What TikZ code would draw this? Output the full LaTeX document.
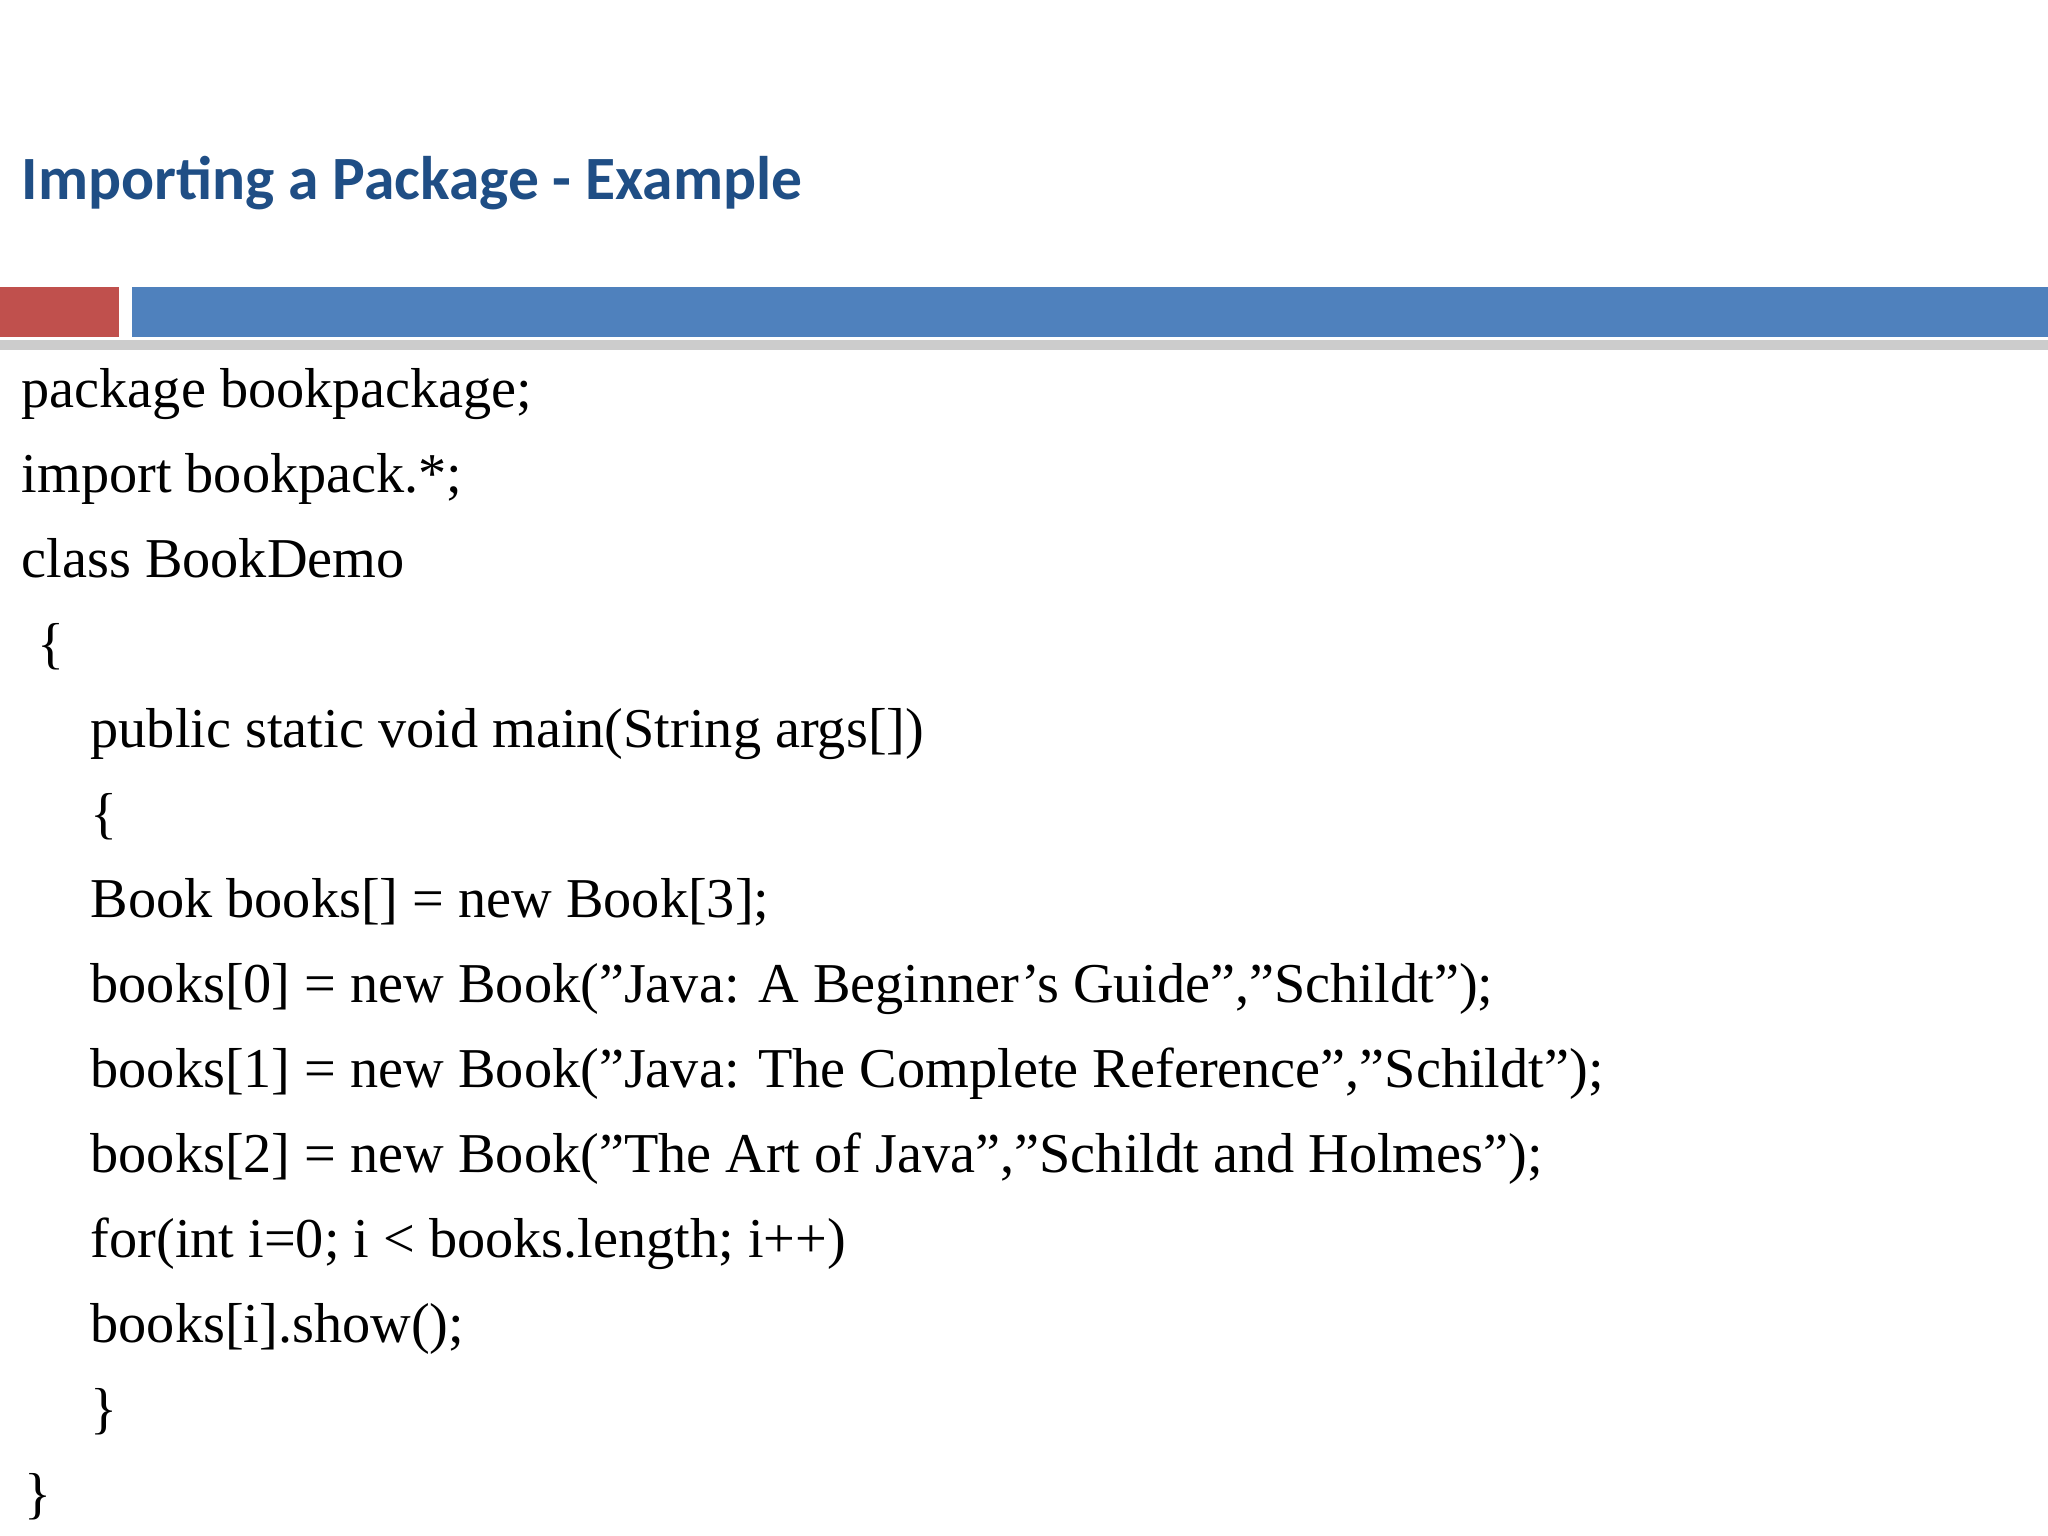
\documentclass[tikz,border=0pt]{standalone}
\usepackage{fontspec}
\setmainfont{Liberation Serif}
\newfontfamily\titlefont{Carlito}
\definecolor{titleblue}{HTML}{1F4E85}
\definecolor{barred}{HTML}{C0504D}
\definecolor{barblue}{HTML}{4F81BD}
\begin{document}
\begin{tikzpicture}[x=0.01cm,y=-0.01cm,
  code/.style={anchor=base west,inner sep=0pt,font=\fontsize{16pt}{18pt}\selectfont}]
\useasboundingbox (0,0) rectangle (2048,1536);
\node[anchor=base west,inner sep=0pt,text=titleblue,font=\titlefont\bfseries\fontsize{17.5pt}{20pt}\selectfont] (title) at (21,199) {Importing a Package - Example};
\fill[gray!40] (0,340) rectangle (2048,350);
\fill[barred] (0,287) rectangle (119,337);
\fill[barblue] (132,287) rectangle (2048,337);
\node[code] (l1) at (21,407) {package bookpackage;};
\node[code] (l2) at (21,492) {import bookpack.*;};
\node[code] (l3) at (21,577) {class BookDemo};
\node[code] (l4) at (37,662) {\{};
\node[code] (l5) at (90,747) {public static void main(String args[])};
\node[code] (l6) at (90,832) {\{};
\node[code] (l7) at (90,917) {Book books[] = new Book[3];};
\node[code] (l8) at (90,1002) {books[0] = new Book("Java: A Beginner's Guide","Schildt");};
\node[code] (l9) at (90,1087) {books[1] = new Book("Java: The Complete Reference","Schildt");};
\node[code] (l10) at (90,1172) {books[2] = new Book("The Art of Java","Schildt and Holmes");};
\node[code] (l11) at (90,1257) {for(int i=0; i < books.length; i++)};
\node[code] (l12) at (90,1342) {books[i].show();};
\node[code] (l13) at (90,1427) {\}};
\node[code] (l14) at (24,1512) {\}};
\end{tikzpicture}
\end{document}
